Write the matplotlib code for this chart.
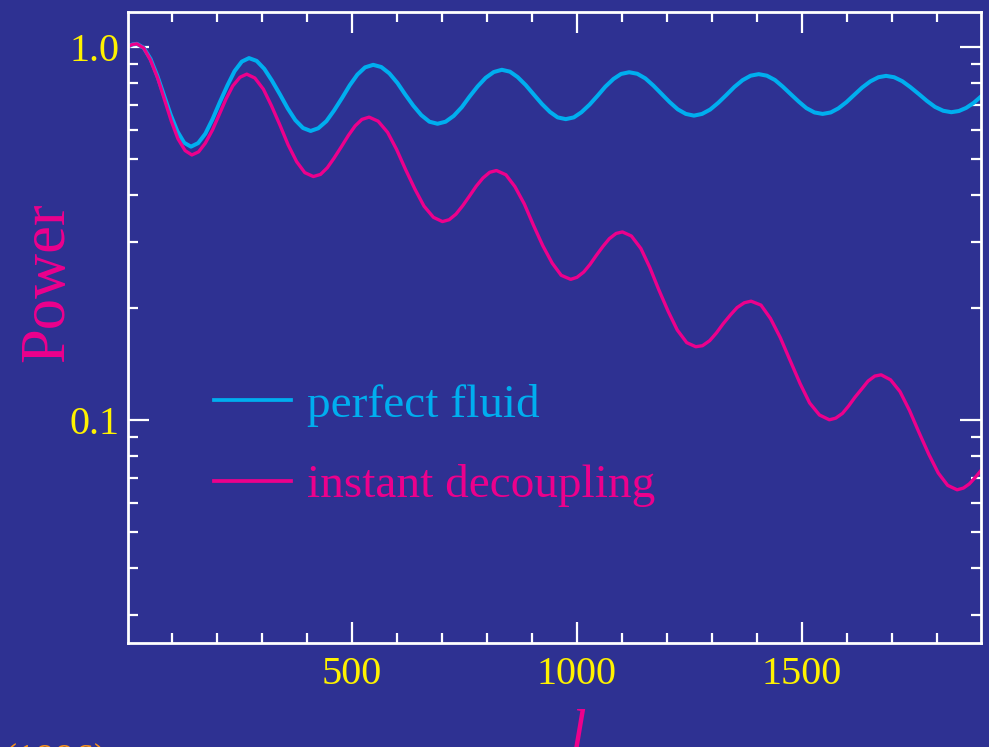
"""Power spectrum damping: perfect fluid vs instant decoupling."""

import matplotlib

matplotlib.use("Agg")
import matplotlib.pyplot as plt
from matplotlib.ticker import FixedLocator, NullFormatter

BG = "#2E3192"
CYAN = "#00AEEF"
MAGENTA = "#EC008C"
YELLOW = "#FFF200"
ORANGE = "#F7941D"
SERIF = ["Liberation Serif", "DejaVu Serif"]

# values
ell_fluid = [2, 12, 22, 37, 52, 67, 82, 97, 112, 127, 142, 158, 174, 190, 206,
             223, 239, 255, 271, 288, 305, 322, 340, 357, 374, 391, 408, 425,
             443, 460, 478, 495, 512, 529, 547, 565, 583, 601, 618, 636, 654,
             672, 690, 708, 726, 744, 761, 779, 797, 815, 833, 851, 868, 886,
             904, 922, 940, 957, 975, 993, 1010, 1028, 1046, 1063, 1081, 1098,
             1116, 1134, 1152, 1170, 1188, 1206, 1224, 1242, 1260, 1278, 1296,
             1314, 1332, 1350, 1368, 1386, 1404, 1422, 1440, 1457, 1475, 1493,
             1510, 1528, 1546, 1564, 1581, 1599, 1616, 1634, 1652, 1670, 1687,
             1705, 1723, 1741, 1760, 1778, 1796, 1814, 1832, 1849, 1865, 1882,
             1898]
power_fluid = [1.002, 1.015, 1.019, 0.994, 0.929, 0.838, 0.742, 0.657, 0.593,
               0.553, 0.540, 0.552, 0.585, 0.640, 0.710, 0.788, 0.861, 0.913,
               0.933, 0.917, 0.873, 0.812, 0.745, 0.684, 0.636, 0.606, 0.595,
               0.605, 0.632, 0.675, 0.730, 0.789, 0.843, 0.881, 0.895, 0.883,
               0.849, 0.800, 0.746, 0.696, 0.656, 0.630, 0.622, 0.630, 0.653,
               0.689, 0.735, 0.783, 0.826, 0.856, 0.868, 0.858, 0.830, 0.790,
               0.745, 0.703, 0.669, 0.647, 0.640, 0.647, 0.668, 0.700, 0.740,
               0.782, 0.820, 0.846, 0.855, 0.847, 0.823, 0.787, 0.748, 0.711,
               0.680, 0.661, 0.654, 0.661, 0.679, 0.708, 0.743, 0.781, 0.814,
               0.837, 0.845, 0.837, 0.815, 0.783, 0.747, 0.713, 0.685, 0.667,
               0.661, 0.667, 0.684, 0.711, 0.743, 0.778, 0.808, 0.829, 0.836,
               0.829, 0.809, 0.780, 0.747, 0.716, 0.690, 0.674, 0.668, 0.673,
               0.686, 0.708, 0.736]

ell_inst = [2, 12, 22, 37, 52, 68, 83, 98, 113, 129, 144, 159, 174, 190, 205,
            220, 235, 251, 266, 284, 303, 321, 340, 358, 377, 395, 414, 430,
            445, 460, 476, 492, 507, 522, 538, 558, 579, 599, 619, 640, 660,
            681, 701, 716, 731, 746, 761, 776, 791, 806, 821, 842, 862, 883,
            903, 924, 945, 965, 986, 1000, 1015, 1029, 1043, 1058, 1072, 1087,
            1101, 1121, 1142, 1162, 1182, 1203, 1223, 1244, 1264, 1279, 1295,
            1310, 1325, 1341, 1356, 1372, 1387, 1409, 1430, 1452, 1474, 1496,
            1517, 1539, 1561, 1575, 1590, 1604, 1618, 1633, 1647, 1662, 1676,
            1697, 1718, 1739, 1760, 1782, 1803, 1824, 1845, 1859, 1872, 1885,
            1898]
power_inst = [1.002, 1.015, 1.019, 0.993, 0.922, 0.824, 0.723, 0.634, 0.567,
              0.527, 0.513, 0.523, 0.552, 0.599, 0.659, 0.725, 0.786, 0.829,
              0.845, 0.825, 0.770, 0.695, 0.616, 0.546, 0.492, 0.460, 0.449,
              0.455, 0.474, 0.503, 0.539, 0.579, 0.614, 0.639, 0.648, 0.632,
              0.590, 0.531, 0.469, 0.415, 0.374, 0.349, 0.340, 0.344, 0.356,
              0.375, 0.398, 0.423, 0.445, 0.461, 0.466, 0.454, 0.422, 0.379,
              0.333, 0.293, 0.263, 0.244, 0.238, 0.241, 0.249, 0.261, 0.276,
              0.292, 0.306, 0.316, 0.319, 0.311, 0.288, 0.256, 0.223, 0.195,
              0.174, 0.161, 0.157, 0.158, 0.163, 0.171, 0.181, 0.191, 0.200,
              0.206, 0.208, 0.203, 0.187, 0.166, 0.144, 0.125, 0.111, 0.103,
              0.100, 0.101, 0.104, 0.109, 0.115, 0.121, 0.127, 0.131, 0.132,
              0.128, 0.119, 0.106, 0.0926, 0.0808, 0.0720, 0.0667, 0.0649,
              0.0656, 0.0673, 0.0700, 0.0731]

labels = ["perfect fluid", "instant decoupling"]
x_major = [500, 1000, 1500]
x_minor = [100, 200, 300, 400, 600, 700, 800, 900, 1100, 1200, 1300, 1400,
           1600, 1700, 1800]
y_major = [0.1, 1.0]
y_major_labels = ["0.1", "1.0"]
y_minor = [0.03, 0.04, 0.05, 0.06, 0.07, 0.08, 0.09,
           0.2, 0.3, 0.4, 0.5, 0.6, 0.7, 0.8, 0.9]


def main():
    fig = plt.figure(figsize=(9.89, 7.47), dpi=100, facecolor=BG)
    ax = fig.add_axes([0.1294, 0.1392, 0.8625, 0.8447], facecolor=BG)

    ax.plot(ell_fluid, power_fluid, color=CYAN, lw=2.9, label=labels[0],
            solid_joinstyle="round")
    ax.plot(ell_inst, power_inst, color=MAGENTA, lw=2.4, label=labels[1],
            solid_joinstyle="round")

    ax.set_yscale("log")
    ax.set_xlim(2, 1898)
    ax.set_ylim(0.0252, 1.24)

    ax.xaxis.set_major_locator(FixedLocator(x_major))
    ax.xaxis.set_minor_locator(FixedLocator(x_minor))
    ax.yaxis.set_major_locator(FixedLocator(y_major))
    ax.yaxis.set_minor_locator(FixedLocator(y_minor))
    ax.set_yticklabels(y_major_labels)
    ax.yaxis.set_minor_formatter(NullFormatter())

    for s in ax.spines.values():
        s.set_color("white")
        s.set_linewidth(2.0)
    ax.tick_params(which="both", direction="in", colors="white", top=True,
                   right=True, labelcolor=YELLOW, labelsize=29)
    ax.tick_params(which="major", length=15, width=1.6)
    ax.tick_params(which="minor", length=7.2, width=1.6)
    ax.tick_params(axis="x", which="major", pad=9)
    ax.tick_params(axis="y", which="major", pad=6)
    for t in ax.get_xticklabels() + ax.get_yticklabels():
        t.set_family(SERIF)

    ax.set_ylabel("Power", color=MAGENTA, fontsize=45, family=SERIF)
    ax.yaxis.set_label_coords(-0.06, 0.572)
    ax.set_xlabel("l", color=MAGENTA, fontsize=40, family=SERIF,
                  style="italic", labelpad=12)
    ax.xaxis.label.set_x(0.527)

    leg = ax.legend(loc="upper left", bbox_to_anchor=(0.073, 0.448),
                    frameon=False, prop={"family": SERIF, "size": 34},
                    handlelength=1.63, handletextpad=0.34, labelspacing=0.79,
                    borderpad=0, labelcolor="linecolor")
    for h in leg.get_lines():
        h.set_linewidth(2.7)

    fig.text(0.108, -0.033, "(1996)", color=ORANGE, fontsize=28,
             family=SERIF, ha="right", va="baseline")

    fig.savefig("out.png", dpi=100, facecolor=BG)
    plt.close(fig)


if __name__ == "__main__":
    main()
